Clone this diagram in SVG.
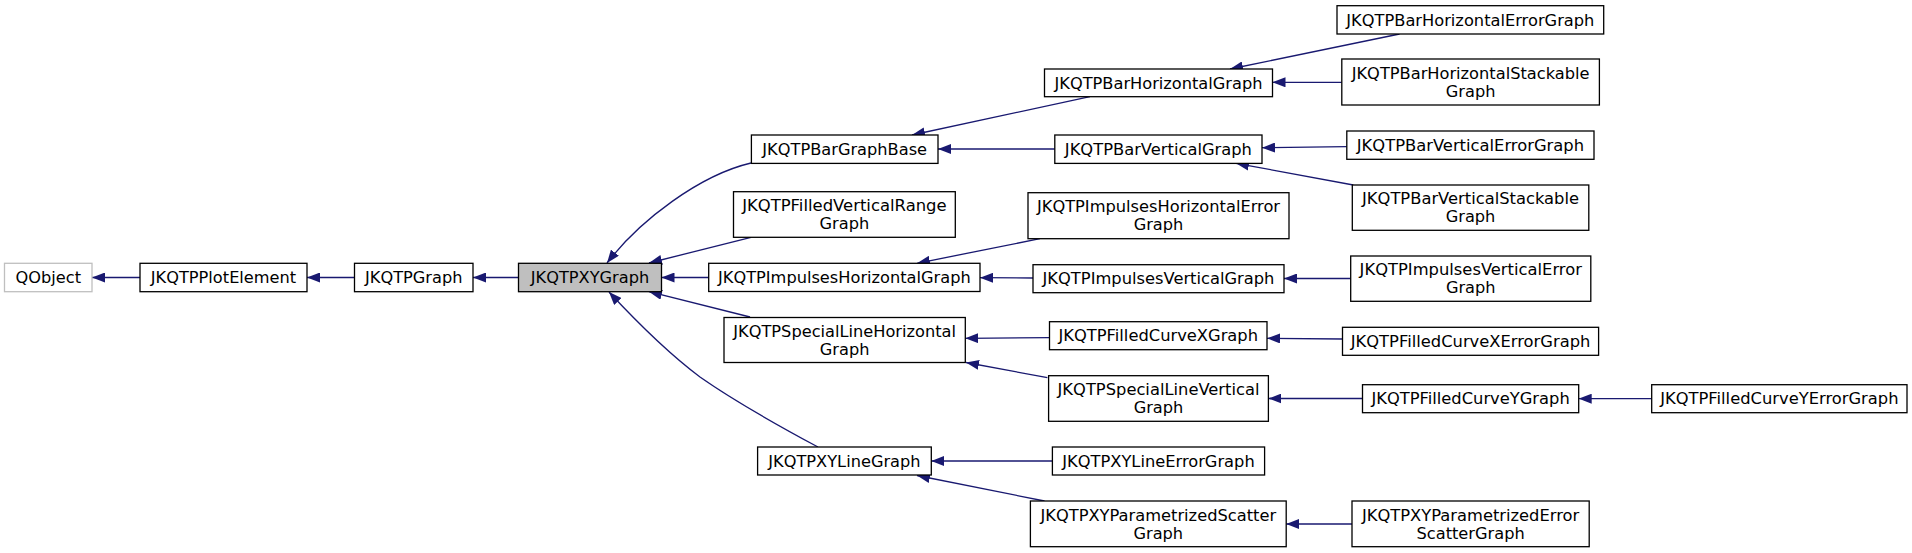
<svg xmlns="http://www.w3.org/2000/svg" width="1912" height="553" viewBox="0 0 1912 553">
<style>
.n rect{fill:#fff;stroke:#000;stroke-width:1.3}
.n.hl rect{fill:#bfbfbf}
.n.ext rect{stroke:#bfbfbf}
.n text{font-family:"DejaVu Sans","Liberation Sans",sans-serif;font-size:15.5px;fill:#000;text-anchor:middle}
.e path{fill:none;stroke:#191970;stroke-width:1.3;marker-end:url(#ah)}
</style>
<defs>
<marker id="ah" markerUnits="userSpaceOnUse" markerWidth="13" markerHeight="10" viewBox="0 0 13 10" refX="13" refY="5" orient="auto">
<path d="M0,0 L13,5 L0,10 z" fill="#191970"/>
</marker>
</defs>
<rect width="1912" height="553" fill="#fff"/>
<g id="edges" class="e">
<path d="M140,277.5 L92,277.5"/>
<path d="M354.5,277.5 L307,277.5"/>
<path d="M518.5,277.5 L473,277.5"/>
<path d="M751,163 C700,175 640,220 607,263"/>
<path d="M751,237.3 L649,263"/>
<path d="M708.7,277.5 L661.5,277.5"/>
<path d="M750,317 L649,291.7"/>
<path d="M818,447 C790,432 740,405 700,377 C668,353 635,320 609,292"/>
<path d="M1090,96.7 L912,135"/>
<path d="M1054.8,149 L938,149"/>
<path d="M1040,238.7 L917,263.3"/>
<path d="M1033,278 L980,277.7"/>
<path d="M1049.5,337.7 L965.3,338.3"/>
<path d="M1047.4,377.7 L966,362.5"/>
<path d="M1052.4,461 L931.3,461"/>
<path d="M1044.5,501 L917,475.5"/>
<path d="M1399.5,34 L1230,69"/>
<path d="M1341.8,82.3 L1272.5,82.3"/>
<path d="M1346.8,146.7 L1262,147.7"/>
<path d="M1353.3,185 L1236,163.3"/>
<path d="M1350.7,278.5 L1284,278.5"/>
<path d="M1342.5,339 L1267,338.3"/>
<path d="M1362.5,398.5 L1268.4,398.5"/>
<path d="M1651.7,398.7 L1578.7,398.7"/>
<path d="M1352,524 L1286.2,524"/>
</g>
<g id="QObject" class="n ext"><rect x="4.5" y="263.3" width="87.5" height="28.4"/><text x="48.25" y="283.15" textLength="65.5" lengthAdjust="spacingAndGlyphs">QObject</text></g>
<g id="JKQTPPlotElement" class="n"><rect x="140" y="263.3" width="167" height="28.4"/><text x="223.5" y="283.15" textLength="145.4" lengthAdjust="spacingAndGlyphs">JKQTPPlotElement</text></g>
<g id="JKQTPGraph" class="n"><rect x="354.5" y="263.3" width="118.5" height="28.4"/><text x="413.75" y="283.15" textLength="97.5" lengthAdjust="spacingAndGlyphs">JKQTPGraph</text></g>
<g id="JKQTPXYGraph" class="n hl"><rect x="518.5" y="263.3" width="143" height="28.4"/><text x="590" y="283.15" textLength="118.5" lengthAdjust="spacingAndGlyphs">JKQTPXYGraph</text></g>
<g id="JKQTPBarGraphBase" class="n"><rect x="751.4" y="135" width="186.6" height="28.4"/><text x="844.7" y="154.85" textLength="164.7" lengthAdjust="spacingAndGlyphs">JKQTPBarGraphBase</text></g>
<g id="JKQTPFilledVerticalRangeGraph" class="n"><rect x="733.5" y="191.7" width="221.8" height="45.6"/><text x="844.4" y="211.15" textLength="204.5" lengthAdjust="spacingAndGlyphs">JKQTPFilledVerticalRange</text><text x="844.4" y="229.15" textLength="49.7" lengthAdjust="spacingAndGlyphs">Graph</text></g>
<g id="JKQTPImpulsesHorizontalGraph" class="n"><rect x="708.7" y="263.3" width="271.3" height="28.2"/><text x="844.35" y="283.05" textLength="252.7" lengthAdjust="spacingAndGlyphs">JKQTPImpulsesHorizontalGraph</text></g>
<g id="JKQTPSpecialLineHorizontalGraph" class="n"><rect x="724" y="317.5" width="241.3" height="45"/><text x="844.65" y="336.65" textLength="222.7" lengthAdjust="spacingAndGlyphs">JKQTPSpecialLineHorizontal</text><text x="844.65" y="354.65" textLength="49.7" lengthAdjust="spacingAndGlyphs">Graph</text></g>
<g id="JKQTPXYLineGraph" class="n"><rect x="757.6" y="447" width="173.7" height="28"/><text x="844.45" y="466.65" textLength="152.3" lengthAdjust="spacingAndGlyphs">JKQTPXYLineGraph</text></g>
<g id="JKQTPBarHorizontalGraph" class="n"><rect x="1044.5" y="69" width="228" height="27.7"/><text x="1158.5" y="88.5" textLength="208" lengthAdjust="spacingAndGlyphs">JKQTPBarHorizontalGraph</text></g>
<g id="JKQTPBarVerticalGraph" class="n"><rect x="1054.8" y="135" width="207.2" height="28.4"/><text x="1158.4" y="154.85" textLength="187.1" lengthAdjust="spacingAndGlyphs">JKQTPBarVerticalGraph</text></g>
<g id="JKQTPImpulsesHorizontalErrorGraph" class="n"><rect x="1028" y="192.7" width="261" height="46"/><text x="1158.5" y="212.35" textLength="243.1" lengthAdjust="spacingAndGlyphs">JKQTPImpulsesHorizontalError</text><text x="1158.5" y="230.35" textLength="49.7" lengthAdjust="spacingAndGlyphs">Graph</text></g>
<g id="JKQTPImpulsesVerticalGraph" class="n"><rect x="1033" y="264.7" width="251" height="28"/><text x="1158.5" y="284.35" textLength="231.9" lengthAdjust="spacingAndGlyphs">JKQTPImpulsesVerticalGraph</text></g>
<g id="JKQTPFilledCurveXGraph" class="n"><rect x="1049.5" y="321.7" width="217.5" height="28"/><text x="1158.25" y="341.35" textLength="199.5" lengthAdjust="spacingAndGlyphs">JKQTPFilledCurveXGraph</text></g>
<g id="JKQTPSpecialLineVerticalGraph" class="n"><rect x="1048.6" y="375.7" width="219.8" height="45.6"/><text x="1158.5" y="395.15" textLength="201.9" lengthAdjust="spacingAndGlyphs">JKQTPSpecialLineVertical</text><text x="1158.5" y="413.15" textLength="49.7" lengthAdjust="spacingAndGlyphs">Graph</text></g>
<g id="JKQTPXYLineErrorGraph" class="n"><rect x="1052.4" y="447" width="212.2" height="28"/><text x="1158.5" y="466.65" textLength="192.4" lengthAdjust="spacingAndGlyphs">JKQTPXYLineErrorGraph</text></g>
<g id="JKQTPXYParametrizedScatterGraph" class="n"><rect x="1030.4" y="501" width="255.8" height="45.7"/><text x="1158.3" y="520.5" textLength="235.6" lengthAdjust="spacingAndGlyphs">JKQTPXYParametrizedScatter</text><text x="1158.3" y="538.5" textLength="49.7" lengthAdjust="spacingAndGlyphs">Graph</text></g>
<g id="JKQTPBarHorizontalErrorGraph" class="n"><rect x="1337" y="5.7" width="266.7" height="28.3"/><text x="1470.35" y="25.5" textLength="248.1" lengthAdjust="spacingAndGlyphs">JKQTPBarHorizontalErrorGraph</text></g>
<g id="JKQTPBarHorizontalStackableGraph" class="n"><rect x="1341.8" y="59" width="257.6" height="46"/><text x="1470.6" y="78.65" textLength="237.8" lengthAdjust="spacingAndGlyphs">JKQTPBarHorizontalStackable</text><text x="1470.6" y="96.65" textLength="49.7" lengthAdjust="spacingAndGlyphs">Graph</text></g>
<g id="JKQTPBarVerticalErrorGraph" class="n"><rect x="1346.8" y="131" width="247.2" height="28.3"/><text x="1470.4" y="150.8" textLength="227.3" lengthAdjust="spacingAndGlyphs">JKQTPBarVerticalErrorGraph</text></g>
<g id="JKQTPBarVerticalStackableGraph" class="n"><rect x="1352.3" y="185" width="236.5" height="45.3"/><text x="1470.55" y="204.3" textLength="217" lengthAdjust="spacingAndGlyphs">JKQTPBarVerticalStackable</text><text x="1470.55" y="222.3" textLength="49.7" lengthAdjust="spacingAndGlyphs">Graph</text></g>
<g id="JKQTPImpulsesVerticalErrorGraph" class="n"><rect x="1350.7" y="256" width="240.1" height="45.3"/><text x="1470.75" y="275.3" textLength="222.3" lengthAdjust="spacingAndGlyphs">JKQTPImpulsesVerticalError</text><text x="1470.75" y="293.3" textLength="49.7" lengthAdjust="spacingAndGlyphs">Graph</text></g>
<g id="JKQTPFilledCurveXErrorGraph" class="n"><rect x="1342.5" y="327.3" width="256.1" height="28"/><text x="1470.55" y="346.95" textLength="239.6" lengthAdjust="spacingAndGlyphs">JKQTPFilledCurveXErrorGraph</text></g>
<g id="JKQTPFilledCurveYGraph" class="n"><rect x="1362.5" y="384.7" width="216.2" height="28"/><text x="1470.6" y="404.35" textLength="198.3" lengthAdjust="spacingAndGlyphs">JKQTPFilledCurveYGraph</text></g>
<g id="JKQTPFilledCurveYErrorGraph" class="n"><rect x="1651.7" y="384.7" width="255.3" height="28"/><text x="1779.35" y="404.35" textLength="238.4" lengthAdjust="spacingAndGlyphs">JKQTPFilledCurveYErrorGraph</text></g>
<g id="JKQTPXYParametrizedErrorScatterGraph" class="n"><rect x="1352" y="501" width="237.2" height="45.7"/><text x="1470.6" y="520.5" textLength="217.2" lengthAdjust="spacingAndGlyphs">JKQTPXYParametrizedError</text><text x="1470.6" y="538.5" textLength="108.2" lengthAdjust="spacingAndGlyphs">ScatterGraph</text></g>
</svg>
